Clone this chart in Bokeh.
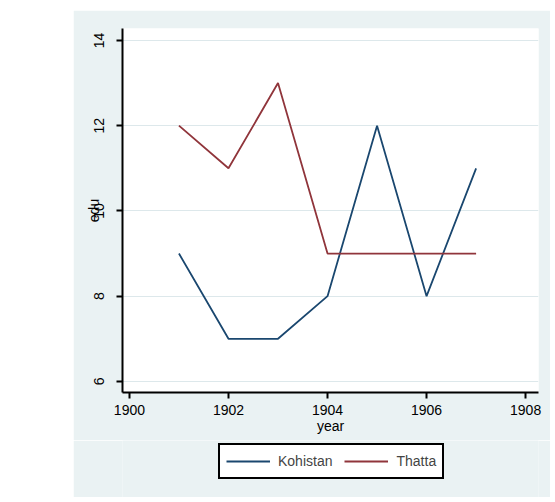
from bokeh.plotting import figure
from bokeh.models import Range1d, Legend, LegendItem, FixedTicker, Spacer
from bokeh.layouts import row, column
from bokeh.embed import file_html
from bokeh.resources import INLINE

years = [1901, 1902, 1903, 1904, 1905, 1906, 1907]
kohistan = [9, 7, 7, 8, 12, 8, 11]
thatta = [12, 11, 13, 9, 9, 9, 9]
x_ticks = [1900, 1902, 1904, 1906, 1908]
y_ticks = [6, 8, 10, 12, 14]
series_names = ["Kohistan", "Thatta"]
series_colors = ["#1a476f", "#90353b"]
series_values = [kohistan, thatta]

FONT = "Liberation Sans"
BG = "#eaf2f3"

p = figure(frame_width=416, frame_height=364, output_backend="svg", toolbar_location=None,
           x_range=Range1d(1899.86, 1908.26), y_range=Range1d(5.74, 14.28),
           min_border_left=49, min_border_right=12, min_border_top=18, min_border_bottom=48)
p.border_fill_color = BG
p.background_fill_color = "white"
p.outline_line_color = None

for vals, col in zip(series_values, series_colors):
    p.line(years, vals, line_color=col, line_width=1.8)

p.xgrid.visible = False
p.ygrid.ticker = FixedTicker(ticks=y_ticks)
p.ygrid.grid_line_color = "#dde8eb"
p.ygrid.grid_line_width = 1

for ax in (p.xaxis[0], p.yaxis[0]):
    ax.axis_line_color = "black"
    ax.axis_line_width = 2
    ax.major_tick_line_color = "black"
    ax.major_tick_line_width = 2
    ax.major_tick_out = 6
    ax.major_tick_in = 0
    ax.minor_tick_line_color = None
    ax.major_label_text_font = FONT
    ax.major_label_text_font_size = "14px"
    ax.major_label_text_color = "black"
    ax.axis_label_text_font = FONT
    ax.axis_label_text_font_size = "14px"
    ax.axis_label_text_font_style = "normal"
    ax.axis_label_text_color = "black"

p.xaxis.ticker = FixedTicker(ticks=x_ticks)
p.xaxis.major_label_standoff = 6
p.xaxis.axis_label = "year"
p.xaxis.axis_label_standoff = 0

p.yaxis.ticker = FixedTicker(ticks=y_ticks)
p.yaxis.major_label_orientation = "vertical"
p.yaxis.major_label_standoff = 12
p.yaxis.axis_label = "edu"
p.yaxis.axis_label_standoff = -10

# legend strip below the plot, same background; its renderers draw the same
# series (off-range, so only their legend glyphs are visible)
p2 = figure(frame_width=416, height=57, output_backend="svg", toolbar_location=None,
            x_range=Range1d(0, 1), y_range=Range1d(0, 1),
            min_border_left=49, min_border_right=12, min_border_top=0, min_border_bottom=0)
p2.axis.visible = False
p2.grid.visible = False
p2.outline_line_color = None
p2.background_fill_color = BG
p2.border_fill_color = BG
items = []
for name, col, vals in zip(series_names, series_colors, series_values):
    rr = p2.line(x=years, y=vals, line_color=col, line_width=1.8)
    items.append(LegendItem(label=name, renderers=[rr]))

legend = Legend(items=items, orientation="horizontal", location=(96, 18))
legend.label_text_font = FONT
legend.label_text_font_size = "14px"
legend.glyph_width = 44
legend.glyph_height = 20
legend.label_height = 20
legend.label_standoff = 8
legend.spacing = 12
legend.padding = 6
legend.margin = 0
legend.border_line_color = "black"
legend.border_line_alpha = 1
legend.border_line_width = 2
legend.background_fill_color = "white"
legend.background_fill_alpha = 1
p2.add_layout(legend, "center")

layout = column(Spacer(height=10), row(Spacer(width=73), column(p, p2)))
open("out.html", "w").write(file_html(layout, INLINE))
